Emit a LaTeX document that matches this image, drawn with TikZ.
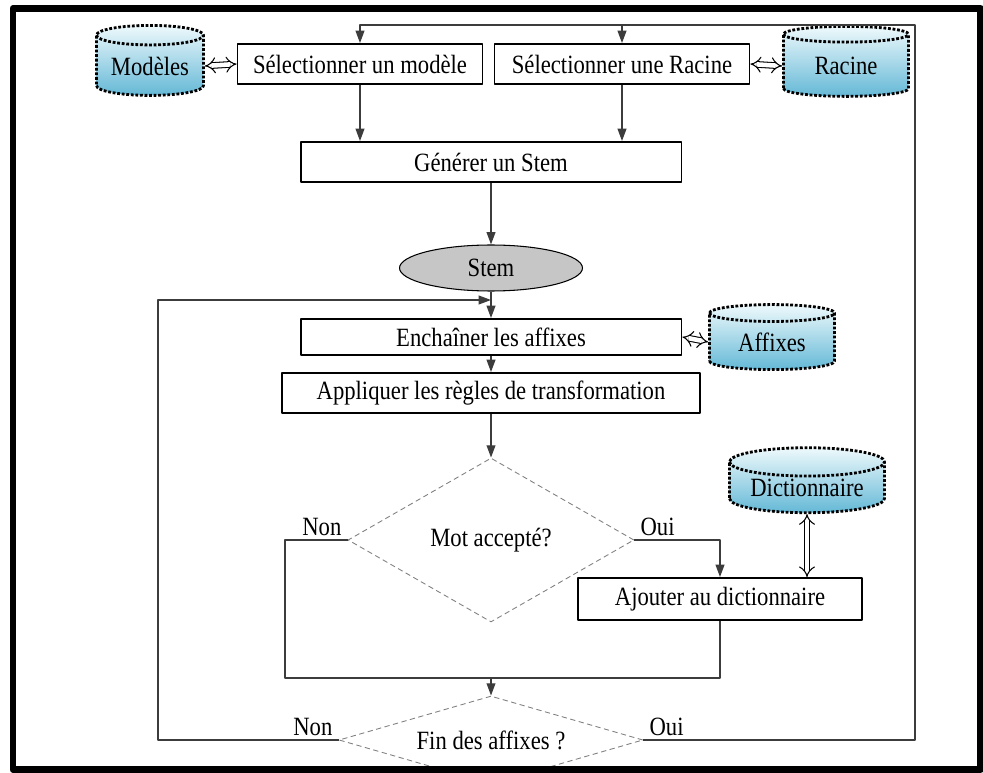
\documentclass[tikz,border=0pt]{standalone}
\usepackage{fontspec}
\setmainfont{Liberation Serif}[FakeStretch=0.86]
\usetikzlibrary{shapes.geometric,arrows.meta,positioning}
\definecolor{cylhaut}{RGB}{238,249,252}
\definecolor{cylbas}{RGB}{100,184,214}
\definecolor{trait}{RGB}{60,60,60}
\begin{document}
\begin{tikzpicture}[x=0.02cm,y=-0.02cm,>={Triangle[length=7pt,width=5pt]},
    font=\fontsize{15}{17}\selectfont, line join=round,
    boite/.style={draw,line width=1.1pt,inner sep=0pt,minimum height=0.8cm},
    base/.style={cylinder,shape border rotate=90,aspect=0.25,draw,densely dotted,
        line width=1.6pt,top color=cylhaut,bottom color=cylbas,inner sep=0pt},
    test/.style={diamond,draw=gray,densely dashed,line width=0.5pt,inner sep=0pt},
    fleche/.style={->,draw=trait,line width=0.8pt},
    lien/.style={draw=trait,line width=0.8pt},
    dfleche/.style={double,double distance=2.6pt,line width=0.6pt,{Implies}-{Implies}}]
    \useasboundingbox (0,0) rectangle (983,773);
    \clip (0,0) rectangle (983,773);
    % ligne du haut
    \node[base,minimum width=2.14cm,minimum height=1.4cm] (modeles) at (150,66) {Modèles};
    \node[boite,minimum width=4.9cm] (modele) at (360,64) {Sélectionner un modèle};
    \node[boite,minimum width=5.1cm] (racinesel) at (622,64) {Sélectionner une Racine};
    \node[base,minimum width=2.5cm,minimum height=1.4cm] (racine) at (846,66) {Racine};
    \node[boite,minimum width=7.62cm] (generer) at (491,162) {Générer un Stem};
    \node[ellipse,draw,fill=gray!45,line width=0.6pt,minimum width=3.66cm,minimum height=0.92cm] (stem) at (491,268) {Stem};
    % boucle des affixes
    \node[boite,minimum width=7.62cm,minimum height=0.72cm] (enchainer) at (491,337) {Enchaîner les affixes};
    \node[base,minimum width=2.5cm,minimum height=1.3cm] (affixes) at (772,342) {Affixes};
    \node[boite,minimum width=8.36cm] (appliquer) at (491,393) {Appliquer les règles de transformation};
    \node[test,aspect=1.74,minimum width=5.72cm,minimum height=3.28cm] (test1) at (491,540) {Mot accepté?};
    \node[base,minimum width=3.1cm,minimum height=1.3cm] (dico) at (807,488) {Dictionnaire};
    \node[boite,minimum width=5.68cm,minimum height=0.84cm] (ajout) at (720,599) {Ajouter au dictionnaire};
    \node[test,aspect=3.45,minimum width=6.08cm,minimum height=1.76cm] (test2) at (491,740) {Fin des affixes ?};
    \foreach \n in {test1,test2}{
        \node[above left=-1pt and 0pt of \n.west] {Non};
        \node[above right=-1pt and 0pt of \n.east] {Oui};
    }
    \coordinate (haut) at (915,25);
    \coordinate (retour) at (158,300);
    \coordinate (j) at (491,678);
    \coordinate (jg) at (285,678);
    % connecteurs
    \draw[fleche] (test2.east) -| (haut) -| (modele.north);
    \draw[fleche] (racinesel.north |- haut) -- (racinesel.north);
    \draw[fleche] (modele.south) -- (modele.south |- generer.north);
    \draw[fleche] (racinesel.south) -- (racinesel.south |- generer.north);
    \draw[fleche] (generer.south) -- (stem.north);
    \draw[fleche] (stem.south) -- (enchainer.north);
    \draw[fleche] (test2.west) -| (retour) -- (retour -| stem.south);
    \draw[fleche] (enchainer.south) -- (appliquer.north);
    \draw[fleche] (appliquer.south) -- (test1.north);
    \draw[fleche] (test1.east) -| (ajout.north);
    \draw[lien] (test1.west) -| (jg) -| (ajout.south);
    \draw[fleche] (j) -- (test2.north);
    \draw[dfleche] (modeles.east) -- (modele.west);
    \draw[dfleche] (racinesel.east) -- (racine.west);
    \draw[dfleche] (enchainer.east) -- (affixes.west);
    \draw[dfleche] (dico.south) -- (dico.south |- ajout.north);
    % cadre
    \draw[line width=0.14cm] (13,8.5) rectangle (980.5,769.5);
\end{tikzpicture}
\end{document}
